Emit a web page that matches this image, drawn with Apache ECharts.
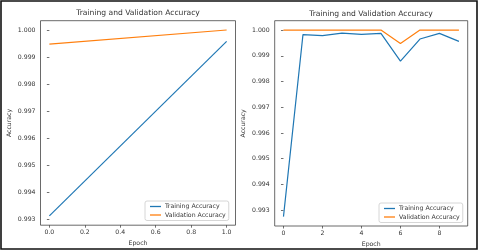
<!DOCTYPE html>
<html>
<head>
<meta charset="utf-8">
<script src="https://cdn.jsdelivr.net/npm/echarts@6/dist/echarts.min.js"></script>
<style>
html,body{margin:0;padding:0;background:#fff;}
#chart{width:480px;height:252px;}
</style>
</head>
<body>
<div id="chart"></div>
<script>
// ---- data ----
const titleText = 'Training and Validation Accuracy';
const seriesNames = ['Training Accuracy', 'Validation Accuracy'];
const leftEpochs = [0, 1];
const leftTrain = [0.99313, 0.99958];
const leftVal = [0.99948, 1.0];
const rightEpochs = [0, 1, 2, 3, 4, 5, 6, 7, 8, 9];
const rightTrain = [0.99275, 0.99982, 0.99978, 0.99988, 0.99983, 0.99987, 0.99879, 0.99965, 0.99987, 0.99956];
const rightVal = [1.0, 1.0, 1.0, 1.0, 1.0, 1.0, 0.99948, 1.0, 1.0, 1.0];
const leftXTicks = [0, 0.2, 0.4, 0.6, 0.8, 1.0];
const rightXTicks = [0, 2, 4, 6, 8];
const yTicks = [0.993, 0.994, 0.995, 0.996, 0.997, 0.998, 0.999, 1.0];

const C1 = '#1f77b4', C2 = '#ff7f0e';
const FONT = 'DejaVu Sans';

function range(vals) {
  const mn = Math.min(...vals), mx = Math.max(...vals);
  const m = (mx - mn) * 0.05;
  return [mn - m, mx + m];
}
function pairs(xs, ys) { return xs.map((x, i) => [x, ys[i]]); }

const lx = range(leftEpochs), ly = range(leftTrain.concat(leftVal));
const rx = range(rightEpochs), ry = range(rightTrain.concat(rightVal));

const grids = [
  {left: 40.5, top: 20.7, width: 195, height: 204.5},
  {left: 274.7, top: 20.7, width: 193, height: 205.3}
];

function xAxis(idx, r, ticks, dec, gap) {
  return {
    type: 'value', gridIndex: idx, min: r[0], max: r[1],
    name: 'Epoch', nameLocation: 'middle', nameGap: gap,
    nameTextStyle: {fontFamily: FONT, fontSize: 6.2, color: '#333'},
    axisLine: {show: false},
    axisTick: {show: true, length: 2.5, lineStyle: {color: '#333', width: 0.7}, customValues: ticks},
    axisLabel: {fontFamily: FONT, fontSize: 6.2, color: '#333', margin: 4,
      customValues: ticks, formatter: v => v.toFixed(dec)},
    splitLine: {show: false}
  };
}
function yAxis(idx, r) {
  return {
    type: 'value', gridIndex: idx, min: r[0], max: r[1],
    name: 'Accuracy', nameLocation: 'middle', nameGap: 28,
    nameTextStyle: {fontFamily: FONT, fontSize: 6.2, color: '#333'},
    axisLine: {show: false},
    axisTick: {show: true, length: 2.5, lineStyle: {color: '#333', width: 0.7}, customValues: yTicks},
    axisLabel: {fontFamily: FONT, fontSize: 6.2, color: '#333', margin: 5,
      customValues: yTicks, formatter: v => v.toFixed(3)},
    splitLine: {show: false}
  };
}
function line(name, data, color, idx) {
  return {
    type: 'line', name: name, xAxisIndex: idx, yAxisIndex: idx, data: data,
    showSymbol: false, symbol: 'none', lineStyle: {color: color, width: 1.2}, itemStyle: {color: color},
    animation: false, silent: true
  };
}
function legend(idx, left, top) {
  return {
    show: true, orient: 'vertical', left: left, top: top,
    data: seriesNames.map(n => ({name: n})),
    icon: 'rect', itemWidth: 11, itemHeight: 1.3, itemGap: 2.5,
    textStyle: {fontFamily: FONT, fontSize: 6.2, color: '#333', padding: [0, 0, 0, -1]},
    backgroundColor: 'rgba(255,255,255,0.8)', borderColor: '#ccc', borderWidth: 0.8, borderRadius: 2,
    padding: [2.5, 3, 2.5, 5],
    selectedMode: false
  };
}

const chart = echarts.init(document.getElementById('chart'), null, {renderer: 'canvas'});
chart.setOption({
  backgroundColor: '#fff',
  animation: false,
  title: [
    {text: titleText, left: 138, top: 9.5, textAlign: 'center', padding: 0,
     textStyle: {fontFamily: FONT, fontSize: 7.6, fontWeight: 'normal', color: '#333'}},
    {text: titleText, left: 371, top: 10.5, textAlign: 'center', padding: 0,
     textStyle: {fontFamily: FONT, fontSize: 7.6, fontWeight: 'normal', color: '#333'}}
  ],
  grid: grids.map(g => Object.assign({show: true, borderColor: '#444', borderWidth: 0.8, backgroundColor: 'transparent'}, g)),
  xAxis: [xAxis(0, lx, leftXTicks, 1, 12), xAxis(1, rx, rightXTicks, 0, 14)],
  yAxis: [yAxis(0, ly), yAxis(1, ry)],
  legend: [legend(0, 145, 201), legend(1, 379, 203)],
  series: [
    line(seriesNames[0], pairs(leftEpochs, leftTrain), C1, 0),
    line(seriesNames[1], pairs(leftEpochs, leftVal), C2, 0),
    line(seriesNames[0], pairs(rightEpochs, rightTrain), C1, 1),
    line(seriesNames[1], pairs(rightEpochs, rightVal), C2, 1)
  ],
  graphic: [{
    type: 'rect', shape: {x: 1, y: 1, width: 476, height: 248},
    style: {fill: 'none', stroke: '#111', lineWidth: 1.6}, silent: true
  }]
});
</script>
</body>
</html>
